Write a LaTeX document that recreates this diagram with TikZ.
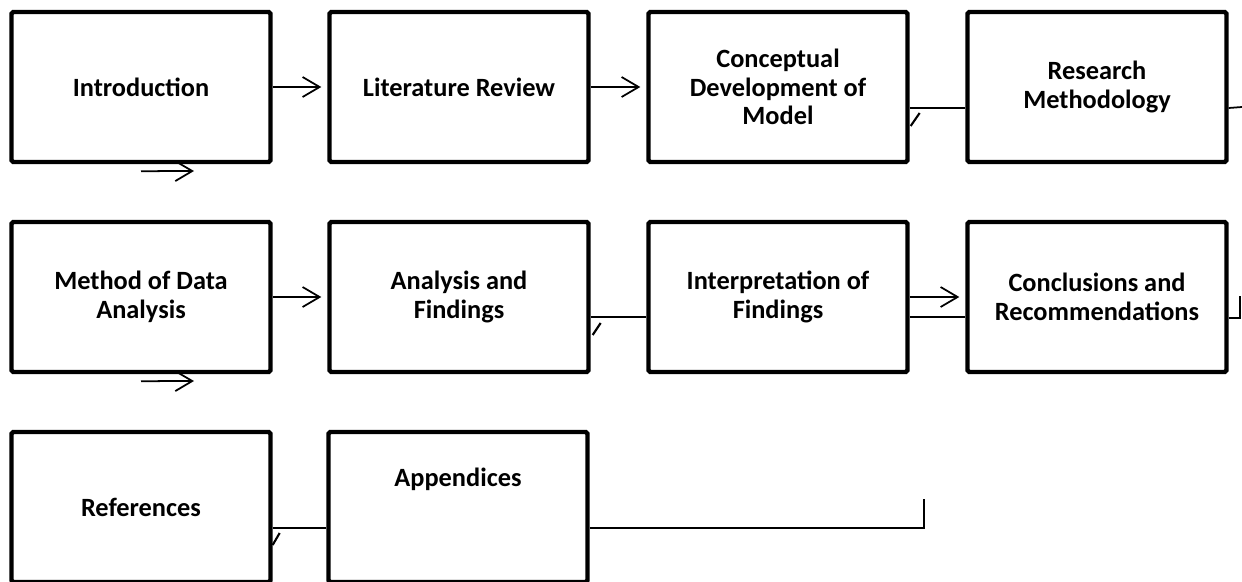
\documentclass[tikz,border=0pt]{standalone}
\usepackage{fontspec}
\setmainfont{Carlito}
\usetikzlibrary{arrows.meta,positioning}

\begin{document}
\begin{tikzpicture}[x=0.02cm,y=-0.02cm,
  font=\fontsize{15pt}{16.2pt}\selectfont\bfseries,
  box/.style={draw=black,line width=2.5pt,fill=white,rounded corners=1pt,
              minimum width=5.18cm,minimum height=3.0cm,align=center,inner sep=2pt},
  a/.style={-{Straight Barb[length=3.4mm,width=4mm]},line width=1pt,shorten >=1.2mm},
  ln/.style={line width=1pt},
  tick/.style={line width=1.2pt}]

% ------------------------------- frame ------------------------------------
\fill[white] (0,0) rectangle (1242,582);
\clip (0,0) rectangle (1242,582);

% ------------------------------- row 1 ------------------------------------
\node[box] (intro)   at (141,87)  {Introduction};
\node[box] (litrev)  at (459,87)  {Literature Review};
\node[box] (concept) at (778,87)  {Conceptual\\Development of\\Model};
\node[box] (resmeth) at (1097,87) {Research\\Methodology};
\coordinate (s1) at (194,171);
\coordinate (r1) at (1242,107);
\draw[a] (intro) -- (litrev);
\draw[a] (litrev) -- (concept);
\draw[ln] ([yshift=-4.2mm]concept.east) -- ([yshift=-4.2mm]resmeth.west);
\draw[tick] ([xshift=0.2mm,yshift=-7.8mm]concept.east) -- ++(0.18cm,0.26cm);
\draw[ln] ([yshift=-4.2mm]resmeth.east) -- (r1);
\draw[a,shorten >=0pt] ([yshift=-1.4mm]intro.south) -- (s1);

% ------------------------------- row 2 ------------------------------------
\node[box] (mda) at (141,297)  {Method of Data\\Analysis};
\node[box] (anf) at (459,297)  {Analysis and\\Findings};
\node[box] (iof) at (778,297)  {Interpretation of\\Findings};
\node[box] (car) at (1097,297) {Conclusions and\\Recommendations};
\coordinate (s2) at (194,381);
\coordinate (r2) at (1240,296);
\draw[a] (mda) -- (anf);
\draw[ln] ([yshift=-4mm]anf.east) -- ([yshift=-4mm]iof.west);
\draw[tick] ([xshift=0.4mm,yshift=-7.6mm]anf.east) -- ++(0.16cm,0.24cm);
\draw[a] (iof) -- (car);
\draw[ln] ([yshift=-4mm]iof.east) -- ([yshift=-4mm]car.west);
\draw[ln] ([yshift=-4.2mm]car.east) -| (r2);
\draw[a,shorten >=0pt] ([yshift=-1.4mm]mda.south) -- (s2);

% ------------------------------- row 3 ------------------------------------
\node[box] (refs) at (141,507) {References};
% text sits higher in this box than in the others
\node[box,text depth=1.2cm] (app) at (458,507) {Appendices};
\coordinate (r3) at (924,499);
\draw[ln] ([yshift=-4.2mm]refs.east) -- ([yshift=-4.2mm]app.west);
\draw[tick] ([yshift=-7.6mm]refs.east) -- ++(0.14cm,0.24cm);
\draw[ln] ([yshift=-4.2mm]app.east) -| (r3);
\end{tikzpicture}
\end{document}
